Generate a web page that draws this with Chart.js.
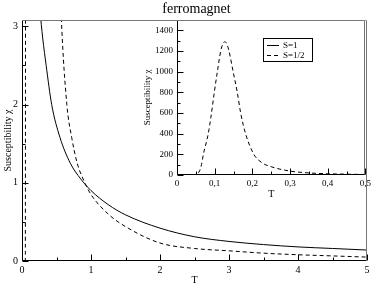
<!DOCTYPE html>
<html><head><meta charset="utf-8">
<script src="https://cdn.jsdelivr.net/npm/chart.js@4/dist/chart.umd.min.js"></script>
<style>
html,body{margin:0;padding:0;background:#fff;}
#wrap{position:relative;width:374px;height:283px;overflow:hidden;}
#main{position:absolute;left:0;top:0;}
#inset{position:absolute;left:135px;top:0;}
</style></head><body>
<div id="wrap">
<canvas id="main" width="374" height="283"></canvas>
<canvas id="inset" width="239" height="200"></canvas>
</div>
<script>
// ---- data ----
const titleText = 'ferromagnet';
const yLabel = 'Susceptibility \u03c7';
const xLabel = 'T';
const seriesLabels = ['S=1', 'S=1/2'];

// S=1 (solid)
const s1T   = [0.26, 0.30, 0.35, 0.43, 0.55, 0.70, 0.85, 1.00, 1.25, 1.50, 2.00, 2.50, 3.00, 3.50, 4.00, 4.50, 5.00];
const s1Chi = [3.20, 2.85, 2.50, 2.00, 1.58, 1.25, 1.05, 0.90, 0.72, 0.59, 0.42, 0.31, 0.25, 0.21, 0.18, 0.16, 0.14];

// S=1/2 (dashed)
const s12T   = [0.040, 0.048, 0.055, 0.060, 0.065, 0.070, 0.083, 0.090, 0.099, 0.108, 0.116, 0.122, 0.127, 0.132, 0.138, 0.149, 0.160, 0.169, 0.182, 0.204, 0.225, 0.25, 0.30, 0.35, 0.40, 0.45, 0.50, 0.57, 0.65, 0.72, 0.80, 0.90, 1.00, 1.25, 1.50, 2.00, 2.50, 3.00, 3.50, 4.00, 4.50, 5.00];
const s12Chi = [0, 0, 15, 40, 100, 200, 400, 560, 800, 1020, 1200, 1270, 1290, 1270, 1200, 1000, 800, 600, 400, 200, 120, 80, 38, 20, 12, 8, 5, 3.1, 2.0, 1.58, 1.25, 1.02, 0.85, 0.60, 0.44, 0.23, 0.16, 0.13, 0.10, 0.08, 0.065, 0.05];

// axis ranges / ticks
const mainXRange = [0, 5];
const mainYRange = [0, 3.08];
const mainXStep = 1, mainYStep = 1;
const insetXRange = [0, 0.5];
const insetYRange = [0, 1500];
const insetXStep = 0.1, insetYStep = 200;

// ---- helpers ----
const FONT = "'Liberation Serif', 'Times New Roman', serif";
const pts = (xs, ys) => xs.map((x, i) => ({x: x, y: ys[i]}));

function datasets() {
  return [
    {label: seriesLabels[0], data: pts(s1T, s1Chi), borderColor: '#000', borderWidth: 1, pointRadius: 0, fill: false, cubicInterpolationMode: 'monotone'},
    {label: seriesLabels[1], data: pts(s12T, s12Chi), borderColor: '#000', borderWidth: 1, borderDash: [4, 3], pointRadius: 0, fill: false, cubicInterpolationMode: 'monotone'}
  ];
}

// draws frame + inward ticks (major + minor halfway)
const frameTicks = {
  id: 'frameTicks',
  beforeDatasetsDraw(chart) {
    const a = chart.chartArea, ctx = chart.ctx;
    ctx.save(); ctx.fillStyle = '#fff';
    ctx.fillRect(a.left, a.top, a.right - a.left, a.bottom - a.top);
    ctx.restore();
  },
  afterDraw(chart, args, opts) {
    const a = chart.chartArea, ctx = chart.ctx;
    const xs = chart.scales.x, ys = chart.scales.y;
    ctx.save();
    ctx.lineWidth = 1;
    ctx.strokeStyle = '#000';
    const L = Math.round(a.left) + 0.5, R = Math.round(a.right) - 0.5, T = Math.round(a.top) + 0.5, B = Math.round(a.bottom) - 0.5;
    ctx.beginPath();
    ctx.moveTo(L, T); ctx.lineTo(L, B); ctx.lineTo(R, B);
    ctx.stroke();
    ctx.strokeStyle = '#777';
    ctx.beginPath();
    ctx.moveTo(L, T); ctx.lineTo(R, T); ctx.lineTo(R, B);
    ctx.stroke();
    ctx.strokeStyle = '#000';
    const maj = opts.major || 5, min = opts.minor || 3;
    ctx.beginPath();
    const xt = xs.ticks.map(t => t.value);
    const xstep = xt.length > 1 ? xt[1] - xt[0] : 1;
    xt.forEach((v) => {
      const px = Math.round(xs.getPixelForValue(v)) + 0.5;
      ctx.moveTo(px, B); ctx.lineTo(px, B - maj);
      const mv = v + xstep / 2;
      if (mv < xs.max - 1e-9) {
        const mp = Math.round(xs.getPixelForValue(mv)) + 0.5;
        ctx.moveTo(mp, B); ctx.lineTo(mp, B - min);
      }
    });
    const yt = ys.ticks.map(t => t.value);
    const ystep = yt.length > 1 ? yt[1] - yt[0] : 1;
    yt.forEach((v) => {
      const py = Math.round(ys.getPixelForValue(v)) + 0.5;
      ctx.moveTo(L, py); ctx.lineTo(L + maj, py);
      const mv = v + ystep / 2;
      if (mv < ys.max - 1e-9) {
        const mp = Math.round(ys.getPixelForValue(mv)) + 0.5;
        ctx.moveTo(L, mp); ctx.lineTo(L + min, mp);
      }
    });
    ctx.stroke();
    ctx.restore();
  }
};

// main title drawn centered on chart area
const mainTitle = {
  id: 'mainTitle',
  afterDraw(chart) {
    const a = chart.chartArea, ctx = chart.ctx;
    ctx.save();
    ctx.font = '14px ' + FONT; ctx.fillStyle = '#000';
    ctx.textAlign = 'center'; ctx.textBaseline = 'middle';
    ctx.fillText(titleText, (a.left + a.right) / 2 + 2, 9);
    ctx.restore();
  }
};

// legend box inside inset
const insetLegend = {
  id: 'insetLegend',
  afterDraw(chart) {
    const a = chart.chartArea, ctx = chart.ctx;
    const bx = a.left + 86, by = a.top + 18, bw = 49, bh = 23;
    ctx.save();
    ctx.fillStyle = '#fff'; ctx.fillRect(bx, by, bw, bh);
    ctx.strokeStyle = '#000'; ctx.lineWidth = 1;
    ctx.strokeRect(Math.round(bx) + 0.5, Math.round(by) + 0.5, bw, bh);
    ctx.font = '9px ' + FONT; ctx.fillStyle = '#000';
    ctx.textAlign = 'left'; ctx.textBaseline = 'middle';
    chart.data.datasets.forEach((ds, i) => {
      const y = Math.round(by + 6.5 + i * 10.5) + 0.5;
      ctx.setLineDash(ds.borderDash || []);
      ctx.beginPath(); ctx.moveTo(bx + 4, y); ctx.lineTo(bx + 16, y); ctx.stroke();
      ctx.setLineDash([]);
      ctx.fillText(ds.label, bx + 20, y);
    });
    ctx.restore();
  }
};

Chart.defaults.font.family = FONT;
Chart.defaults.color = '#000';

new Chart(document.getElementById('main'), {
  type: 'line',
  data: {datasets: datasets()},
  options: {
    responsive: false, animation: false, devicePixelRatio: 1,
    layout: {padding: {top: 20, right: 7, left: 0, bottom: 0}},
    plugins: {legend: {display: false}, tooltip: {enabled: false}, title: {display: false}, frameTicks: {major: 6, minor: 3}},
    scales: {
      x: {type: 'linear', min: mainXRange[0], max: mainXRange[1],
          ticks: {stepSize: mainXStep, padding: 3, font: {size: 10}, maxRotation: 0, includeBounds: false,
                  callback: v => String(v)},
          grid: {display: false, drawTicks: false}, border: {display: false},
          title: {display: true, text: xLabel, font: {size: 10}, padding: {top: 0, bottom: -3}},
          afterFit(s) { s.height = 22; }},
      y: {type: 'linear', min: mainYRange[0], max: mainYRange[1],
          ticks: {stepSize: mainYStep, padding: 4, font: {size: 10}, includeBounds: false,
                  callback: v => String(v)},
          grid: {display: false, drawTicks: false}, border: {display: false},
          title: {display: true, text: yLabel, font: {size: 10}, padding: {top: 2, bottom: 0}},
          afterFit(s) { s.width = 22; }}
    }
  },
  plugins: [frameTicks, mainTitle]
});

new Chart(document.getElementById('inset'), {
  type: 'line',
  data: {datasets: datasets()},
  options: {
    responsive: false, animation: false, devicePixelRatio: 1,
    layout: {padding: {top: 20, right: 7, left: 0, bottom: 0}},
    plugins: {legend: {display: false}, tooltip: {enabled: false}, title: {display: false}, frameTicks: {major: 6, minor: 3}},
    scales: {
      x: {type: 'linear', min: insetXRange[0], max: insetXRange[1],
          ticks: {stepSize: insetXStep, padding: 3, font: {size: 9}, maxRotation: 0, includeBounds: false,
                  callback: v => v === 0 ? '0' : v.toFixed(1).replace('.', ',')},
          grid: {display: false, drawTicks: false}, border: {display: false},
          title: {display: true, text: xLabel, font: {size: 10}, padding: {top: 0, bottom: 0}},
          afterFit(s) { s.height = 25; }},
      y: {type: 'linear', min: insetYRange[0], max: insetYRange[1],
          ticks: {stepSize: insetYStep, padding: 4, font: {size: 9}, includeBounds: false,
                  callback: v => String(v)},
          grid: {display: false, drawTicks: false}, border: {display: false},
          title: {display: true, text: yLabel, font: {size: 9}, padding: {top: 7, bottom: 0}},
          afterFit(s) { s.width = 42; }}
    }
  },
  plugins: [frameTicks, insetLegend]
});
</script>
</body></html>
